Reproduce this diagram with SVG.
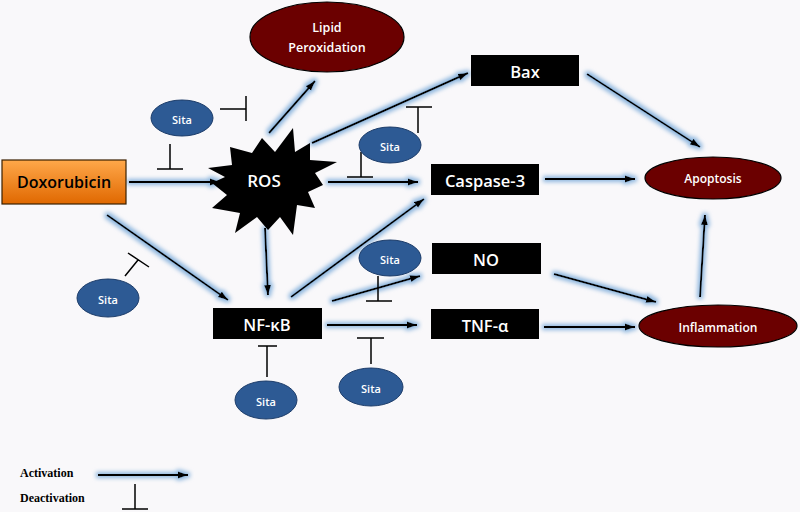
<svg xmlns="http://www.w3.org/2000/svg" width="800" height="512" viewBox="0 0 800 512">
<defs>
<style>
.lbl{font-family:"Open Sans","Liberation Sans",sans-serif;font-weight:600;fill:#fff;text-anchor:middle;dominant-baseline:central}
.bt{font-size:16.5px;font-weight:600}
.box{fill:#000}
.sita{fill:#2d5a94;stroke:#1d3d6a;stroke-width:1}
.red{fill:#6b0000;stroke:#000;stroke-width:1.2}
.act{stroke:#000;stroke-width:2;fill:none;marker-end:url(#arr)}
.inh{stroke:#000;stroke-width:1.5;fill:none}
.leg{font-family:"Liberation Serif","Times New Roman",serif;font-weight:bold;font-size:12px;fill:#000}
</style>
<marker id="arr" markerUnits="userSpaceOnUse" markerWidth="11" markerHeight="9" refX="10" refY="4" orient="auto">
<path d="M0,0.5 L10,4 L0,7.5 z" fill="#000"/>
</marker>
<filter id="glow" filterUnits="userSpaceOnUse" x="0" y="0" width="800" height="512">
<feMorphology in="SourceAlpha" operator="dilate" radius="1.5" result="d"/>
<feGaussianBlur in="d" stdDeviation="2" result="b"/>
<feFlood flood-color="#8db6de"/>
<feComposite in2="b" operator="in" result="g"/>
<feMerge><feMergeNode in="g"/><feMergeNode in="SourceGraphic"/></feMerge>
</filter>
<linearGradient id="og" x1="0" y1="0" x2="0" y2="1">
<stop offset="0" stop-color="#ffa84a"/>
<stop offset="1" stop-color="#e06800"/>
</linearGradient>
</defs>
<rect width="800" height="512" fill="#f9f8fa"/>

<g id="connectors">
<g filter="url(#glow)">
<line class="act" x1="129" y1="182" x2="220" y2="182"/>
<line class="act" x1="269" y1="133" x2="315" y2="81"/>
<line class="act" x1="312" y1="143" x2="468" y2="73"/>
<line class="act" x1="328" y1="182" x2="418" y2="182"/>
<line class="act" x1="545" y1="179" x2="635" y2="179"/>
<line class="act" x1="587" y1="74" x2="700" y2="147"/>
<line class="act" x1="700" y1="297" x2="705" y2="215"/>
<line class="act" x1="265" y1="228" x2="268" y2="295"/>
<line class="act" x1="107" y1="215" x2="228" y2="300"/>
<line class="act" x1="291" y1="297" x2="424" y2="199"/>
<line class="act" x1="332" y1="301" x2="420" y2="276"/>
<line class="act" x1="554" y1="274" x2="656" y2="302"/>
<line class="act" x1="327" y1="325" x2="417" y2="325"/>
<line class="act" x1="544" y1="327" x2="635" y2="327"/>
<line class="act" x1="98" y1="475" x2="188" y2="475"/>
</g>
<g>
<path class="inh" d="M220,109 H246 M246,96 V121"/>
<path class="inh" d="M170,144 V169 M157,169 H183"/>
<path class="inh" d="M406,107 H432 M418,107 V133"/>
<path class="inh" d="M361,152 V177 M347,177 H373"/>
<path class="inh" d="M125,276 L138,260 M128,253 L149,267"/>
<path class="inh" d="M378,276 V301 M366,301 H392"/>
<path class="inh" d="M267,377 V346 M258,346 H277"/>
<path class="inh" d="M371,364 V338 M357,338 H384"/>
<path class="inh" d="M135,484 V509 M122,509 H148"/>
</g>
</g>

<g id="doxorubicin">
<rect x="2" y="160" width="124" height="44" fill="url(#og)" stroke="#3a2000" stroke-width="1.2"/>
<text x="64" y="182" class="lbl" style="fill:#000;font-size:16px">Doxorubicin</text>
</g>
<g id="ros">
<polygon fill="#000" points="230,147 252,153 262,138 275,152 293,128 295,152 310,143 310,160 337,162 315,173 323,185 308,192 315,208 297,205 293,235 280,217 268,230 257,217 235,233 240,213 212,208 227,195 212,183 225,177 208,168 232,165"/>
<text x="264" y="180" class="lbl" style="font-size:17px">ROS</text>
</g>
<g id="lipid">
<ellipse cx="327" cy="37" rx="77" ry="35" class="red"/>
<text x="327" y="27" class="lbl" style="font-size:12.5px">Lipid</text>
<text x="327" y="47" class="lbl" style="font-size:12.5px">Peroxidation</text>
</g>
<g id="bax">
<rect x="471" y="55" width="108" height="31" class="box"/>
<text x="525" y="71" class="lbl bt">Bax</text>
</g>
<g id="caspase">
<rect x="431" y="164" width="108" height="31" class="box"/>
<text x="485" y="180" class="lbl bt">Caspase-3</text>
</g>
<g id="no">
<rect x="432" y="243" width="109" height="31" class="box"/>
<text x="486" y="259" class="lbl bt">NO</text>
</g>
<g id="tnf">
<rect x="431" y="309" width="108" height="30" class="box"/>
<text x="485" y="325" class="lbl bt">TNF-α</text>
</g>
<g id="nfkb">
<rect x="213" y="308" width="109" height="31" class="box"/>
<text x="267" y="324" class="lbl bt">NF-κB</text>
</g>
<g id="apoptosis">
<ellipse cx="713" cy="178" rx="68" ry="21" class="red"/>
<text x="713" y="178" class="lbl" style="font-size:12px">Apoptosis</text>
</g>
<g id="inflammation">
<ellipse cx="718" cy="326" rx="79" ry="21" class="red"/>
<text x="718" y="327" class="lbl" style="font-size:12px">Inflammation</text>
</g>
<g id="sita1">
<ellipse cx="182" cy="118" rx="31" ry="18" class="sita"/>
<text x="182" y="119" class="lbl" style="font-size:11px">Sita</text>
</g>
<g id="sita2">
<ellipse cx="390" cy="145" rx="31" ry="18" class="sita"/>
<text x="390" y="146" class="lbl" style="font-size:11px">Sita</text>
</g>
<g id="sita3">
<ellipse cx="108" cy="298" rx="31" ry="19" class="sita"/>
<text x="108" y="299" class="lbl" style="font-size:11px">Sita</text>
</g>
<g id="sita4">
<ellipse cx="390" cy="258" rx="31" ry="18" class="sita"/>
<text x="390" y="259" class="lbl" style="font-size:11px">Sita</text>
</g>
<g id="sita5">
<ellipse cx="266" cy="400" rx="31" ry="19" class="sita"/>
<text x="266" y="401" class="lbl" style="font-size:11px">Sita</text>
</g>
<g id="sita6">
<ellipse cx="371" cy="387" rx="32" ry="19" class="sita"/>
<text x="371" y="388" class="lbl" style="font-size:11px">Sita</text>
</g>
<g id="legend">
<text x="20" y="477" class="leg">Activation</text>
<text x="20" y="502" class="leg">Deactivation</text>
</g>
</svg>
